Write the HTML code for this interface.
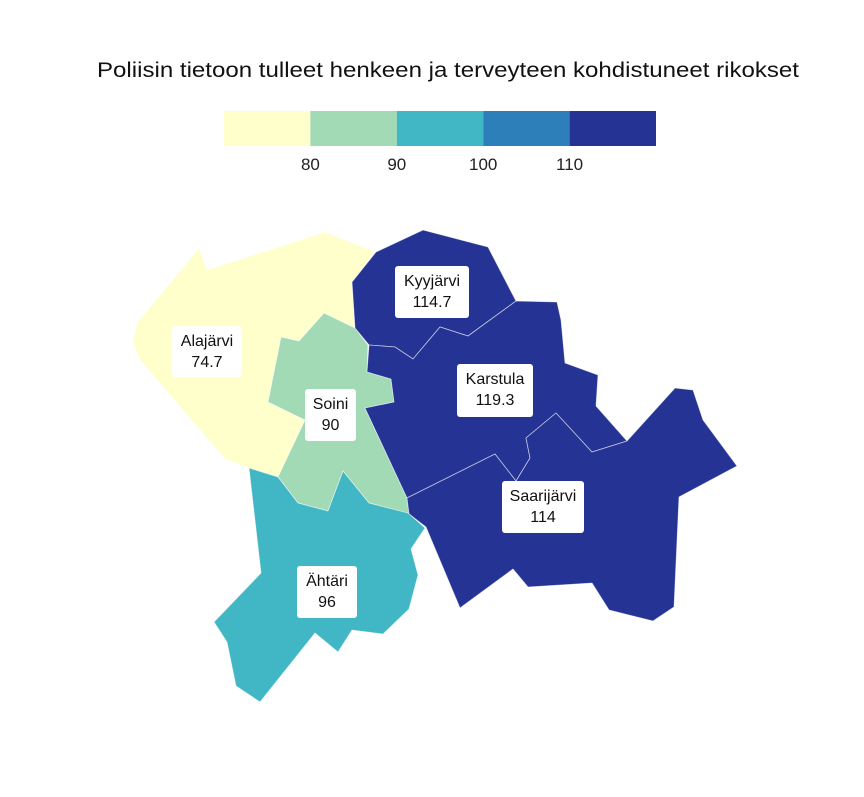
<!DOCTYPE html>
<html><head><meta charset="utf-8">
<style>
html,body{margin:0;padding:0;background:#fff;}
body{width:864px;height:792px;overflow:hidden;font-family:"Liberation Sans",sans-serif;}
</style></head>
<body>
<svg id="chart" width="864" height="792" viewBox="0 0 864 792" xmlns="http://www.w3.org/2000/svg">
<text x="448" y="77" text-anchor="middle" font-size="21" textLength="702" lengthAdjust="spacingAndGlyphs" fill="#111" font-family="Liberation Sans, sans-serif">Poliisin tietoon tulleet henkeen ja terveyteen kohdistuneet rikokset</text>
<g id="legend"></g>
<g id="regions"></g>
<g id="labels"></g>
</svg>
<script>
const regionNames = ["Alajärvi","Soini","Kyyjärvi","Karstula","Saarijärvi","Ähtäri"];
const regionValues = [74.7, 90, 114.7, 119.3, 114, 96];
const binBreaks = [80, 90, 100, 110];
const binColors = ["#ffffcc","#a1dab4","#41b6c4","#2c7fb8","#253494"];
const legendTicks = ["80","90","100","110"];

// geometry (pixel outlines) — not data
const shapes = {
"Alajärvi":"199,248 207,270 325,232 375,252 352,282 355,328 324,313 299,341 281,337 268,402 305,420 278,477 249,468 225,459 140,360 133,342 137,323",
"Soini":"324,313 355,328 368,345 367,372 391,379 394,402 365,408 407,498 409,514 369,503 343,471 328,511 298,503 278,477 305,420 268,402 281,337 299,341",
"Kyyjärvi":"352,282 376,252 423,230 488,247 516,301 468,336 440,327 413,359 395,347 369,345 355,328",
"Karstula":"516,301 557,302 561,320 565,363 598,375 596,406 627,441 592,452 556,413 526,438 530,458 516,481 495,454 407,498 365,408 394,402 391,379 367,372 369,345 395,347 413,359 440,327 468,336",
"Saarijärvi":"627,441 675,388 693,390 703,420 737,466 679,497 674,607 653,621 609,610 592,583 528,587 513,569 460,608 426,527 409,514 407,498 495,454 516,481 530,458 526,438 556,413 592,452",
"Ähtäri":"249,468 278,477 298,503 328,511 343,471 369,503 408,513 425,528 411,549 418,575 409,609 383,634 352,630 338,652 315,633 260,702 236,686 227,642 214,622 261,573"
};
const labelBoxes = {
"Alajärvi":[172,326,70,51],"Soini":[305,389,51,52],"Kyyjärvi":[395,266,74,52],
"Karstula":[457,364,76,53],"Saarijärvi":[502,481,82,52],"Ähtäri":[297,566,60,52]
};
const NS="http://www.w3.org/2000/svg";
function colorFor(v){let i=0;while(i<binBreaks.length&&v>binBreaks[i])i++;return binColors[i];}
const reg=document.getElementById('regions');
const lab=document.getElementById('labels');
regionNames.forEach((n,i)=>{
  const p=document.createElementNS(NS,'polygon');
  p.setAttribute('points',shapes[n]);
  p.setAttribute('fill',colorFor(regionValues[i]));
  p.setAttribute('stroke','#ffffff');p.setAttribute('stroke-opacity','0.6');p.setAttribute('stroke-width','0.8');
  
  
  reg.appendChild(p);
});
regionNames.forEach((n,i)=>{
  const b=labelBoxes[n];const g=document.createElementNS(NS,'g');
  
  
  const r=document.createElementNS(NS,'rect');
  r.setAttribute('x',b[0]);r.setAttribute('y',b[1]);r.setAttribute('width',b[2]);r.setAttribute('height',b[3]);
  r.setAttribute('rx',3);r.setAttribute('fill','#fff');
  g.appendChild(r);
  [n,String(regionValues[i])].forEach((t,k)=>{
    const tx=document.createElementNS(NS,'text');
    tx.setAttribute('x',b[0]+b[2]/2);tx.setAttribute('y',b[1]+20+k*21);
    tx.setAttribute('text-anchor','middle');tx.setAttribute('font-size','16');tx.setAttribute('fill','#111');
    tx.textContent=t;g.appendChild(tx);
  });
  lab.appendChild(g);
});
const leg=document.getElementById('legend');
const lx=224,lw=432,ly=111,lh=35,sw=lw/binColors.length;
binColors.forEach((c,i)=>{
  const r=document.createElementNS(NS,'rect');
  r.setAttribute('x',lx+i*sw);r.setAttribute('y',ly);r.setAttribute('width',sw);r.setAttribute('height',lh);
  r.setAttribute('fill',c);
  
  
  leg.appendChild(r);
});
legendTicks.forEach((t,i)=>{
  const tx=document.createElementNS(NS,'text');
  tx.setAttribute('x',lx+(i+1)*sw);tx.setAttribute('y',170);
  tx.setAttribute('text-anchor','middle');tx.setAttribute('font-size','17');tx.setAttribute('fill','#222');
  tx.textContent=t;
  
  
  leg.appendChild(tx);
});
</script>
</body></html>
